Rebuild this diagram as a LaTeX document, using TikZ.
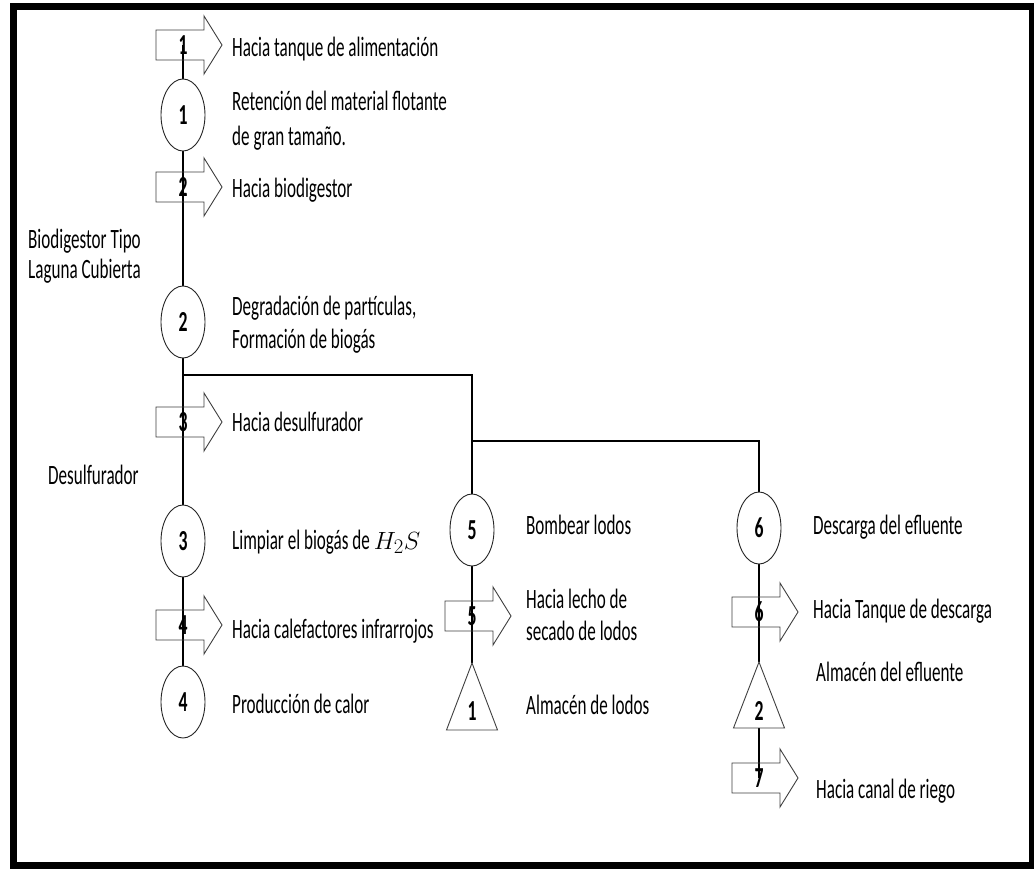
\documentclass[tikz,border=0pt]{standalone}
\usepackage{fontspec}
\usetikzlibrary{shapes.geometric,backgrounds}
\newfontfamily\calib[FakeStretch=0.61]{Carlito}
\newcommand\bigfont{\calib\fontsize{28}{34}\selectfont}
\newcommand\digfont{\calib\bfseries\fontsize{29}{34}\selectfont}
\tikzset{
  lbl/.style={anchor=base west, inner sep=0pt, font=\bigfont, text=black},
  num/.style={inner sep=0pt, font=\digfont, text=black},
  proc/.style={ellipse, draw=black!85, line width=0.9pt, fill=white,
    minimum width=44pt, minimum height=72pt, inner sep=0pt, font=\digfont},
  arrline/.style={draw=black!75, line width=0.9pt},
  conn/.style={line width=2pt, draw=black},
  framestyle/.style={line width=7pt, draw=black}
}
% flow arrow: name, x, y, number
\newcommand\flowarr[4]{%
  \draw[arrline] (#2-27,#3-15) -- (#2+21,#3-15) -- (#2+21,#3-29) -- (#2+39,#3)
     -- (#2+21,#3+29) -- (#2+21,#3+15) -- (#2-27,#3+15) -- cycle;
  \node[num] (#1) at (#2,#3) {#4};}
\begin{document}
\begin{tikzpicture}[x=1pt,y=-1pt]
\useasboundingbox (0,0) rectangle (1034,869);

% flow arrows
\flowarr{a1}{183}{45}{1}
\flowarr{a2}{183}{187}{2}
\flowarr{a3}{183}{422}{3}
\flowarr{a4}{183}{625}{4}
\flowarr{a5}{472}{616}{5}
\flowarr{a6}{759}{612}{6}
\flowarr{a7}{759}{778}{7}

% process circles
\node[proc] (c1) at (183,115) {1};
\node[proc] (c2) at (183,322) {2};
\node[proc] (c3) at (183,541) {3};
\node[proc] (c4) at (183,702) {4};
\node[proc] (c5) at (472,530) {5};
\node[proc] (c6) at (759,528) {6};

% storage triangles
\draw[arrline] (472,663) -- (497.5,730) -- (446.5,730) -- cycle;
\node[num] (t1) at (472,711) {1};
\coordinate (t1top) at (472,663);
\draw[arrline] (759,662) -- (784.5,728) -- (733.5,728) -- cycle;
\node[num] (t2) at (759,711) {2};
\coordinate (t2top) at (759,662);
\coordinate (t2bot) at (759,728);

% connectors (behind the open arrows)
\coordinate (j1) at (183,375);
\coordinate (j2) at (472,441);
\begin{scope}[on background layer]
\fill[white] (0,0) rectangle (1034,869);
\draw[conn] (a1.center) -- (c1.north);
\draw[conn] (c1.south) -- (c2.north);
\draw[conn] (c2.south) -- (c3.north);
\draw[conn] (c3.south) -- (c4.north);
\draw[conn] (j1) -| (c5.north);
\draw[conn] (j2) -| (c6.north);
\draw[conn] (c5.south) -- (t1top);
\draw[conn] (c6.south) -- (t2top);
\draw[conn] (t2bot) -- (a7.center);
\end{scope}

\draw[framestyle] (13.5,6.5) rectangle (1032.5,865.5);

% labels
\node[lbl] (l1) at (232,57) {Hacia tanque de alimentación};
\node[lbl] (l2) at (232,111) {Retención del material flotante};
\node[lbl] (l3) at (232,146) {de gran tamaño.};
\node[lbl] (l4) at (232,198) {Hacia biodigestor};
\node[lbl] (l5) at (28,249) {Biodigestor Tipo};
\node[lbl] (l6) at (28,279) {Laguna Cubierta};
\node[lbl] (l7) at (232,316) {Degradación de partículas,};
\node[lbl] (l8) at (232,348) {Formación de biogás};
\node[lbl] (l9) at (232,431) {Hacia desulfurador};
\node[lbl] (l10) at (48,484) {Desulfurador};
\node[lbl] (l11) at (232,549) {Limpiar el biogás de $H_2S$};
\node[lbl] (l12) at (232,638) {Hacia calefactores infrarrojos};
\node[lbl] (l13) at (232,713) {Producción de calor};
\node[lbl] (l14) at (526,534) {Bombear lodos};
\node[lbl] (l15) at (526,608) {Hacia lecho de};
\node[lbl] (l16) at (526,640) {secado de lodos};
\node[lbl] (l17) at (526,714) {Almacén de lodos};
\node[lbl] (l18) at (813,534) {Descarga del efluente};
\node[lbl] (l19) at (813,618) {Hacia Tanque de descarga};
\node[lbl] (l20) at (816,681) {Almacén del efluente};
\node[lbl] (l21) at (816,798) {Hacia canal de riego};
\end{tikzpicture}
\end{document}
